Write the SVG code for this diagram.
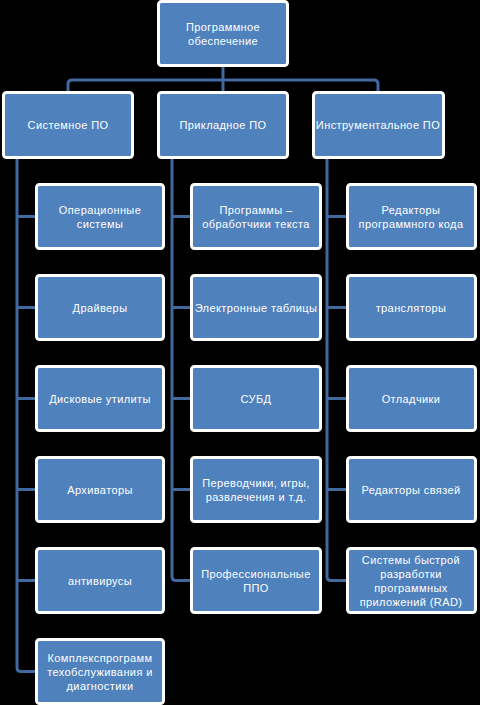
<svg xmlns="http://www.w3.org/2000/svg" width="480" height="705" viewBox="0 0 480 705">
<style>
.bx{fill:#4F81BD;stroke:#FFFFFF;stroke-width:3}
.t{font-family:"Liberation Sans","DejaVu Sans",sans-serif;font-size:11px;fill:#FFFFFF;text-anchor:middle;dominant-baseline:central;letter-spacing:0.4px}
.c{fill:none;stroke:#41699F;stroke-width:3;stroke-linejoin:round}
</style>
<rect width="480" height="705" fill="#000000"/>
<g id="connectors">
<path class="c" d="M223,66 V80"/>
<path class="c" d="M68,91 V84 Q68,80 72,80 H374 Q378,80 378,84 V91"/>
<path class="c" d="M223,80 V91"/>
<path class="c" d="M17,158 V667.5 Q17,671.5 21,671.5 H36"/>
<path class="c" d="M17,216.5 H36 M17,307.5 H36 M17,398.5 H36 M17,489.5 H36 M17,580.5 H36"/>
<path class="c" d="M172,158 V576.5 Q172,580.5 176,580.5 H191"/>
<path class="c" d="M172,216.5 H191 M172,307.5 H191 M172,398.5 H191 M172,489.5 H191"/>
<path class="c" d="M327,158 V576.5 Q327,580.5 331,580.5 H347"/>
<path class="c" d="M327,216.5 H347 M327,307.5 H347 M327,398.5 H347 M327,489.5 H347"/>
</g>
<g id="root"><rect class="bx" x="158.5" y="1.5" width="129" height="64" rx="3"/><text class="t" x="223" y="27">Программное</text><text class="t" x="223" y="41">обеспечение</text></g>
<g id="sys"><rect class="bx" x="3.5" y="92.5" width="129" height="65" rx="3"/><text class="t" x="68" y="125">Системное ПО</text></g>
<g id="app"><rect class="bx" x="158.5" y="92.5" width="129" height="65" rx="3"/><text class="t" x="223" y="125">Прикладное ПО</text></g>
<g id="tool"><rect class="bx" x="313.5" y="92.5" width="130" height="65" rx="3"/><text class="t" x="378" y="125">Инструментальное ПО</text></g>

<g id="s1"><rect class="bx" x="36.5" y="184.5" width="127" height="64" rx="3"/><text class="t" x="100" y="209.5">Операционные</text><text class="t" x="100" y="223.5">системы</text></g>
<g id="s2"><rect class="bx" x="36.5" y="275.5" width="127" height="64" rx="3"/><text class="t" x="100" y="307.5">Драйверы</text></g>
<g id="s3"><rect class="bx" x="36.5" y="366.5" width="127" height="64" rx="3"/><text class="t" x="100" y="398.5">Дисковые утилиты</text></g>
<g id="s4"><rect class="bx" x="36.5" y="457.5" width="127" height="64" rx="3"/><text class="t" x="100" y="489.5">Архиваторы</text></g>
<g id="s5"><rect class="bx" x="36.5" y="548.5" width="127" height="64" rx="3"/><text class="t" x="100" y="580.5">антивирусы</text></g>
<g id="s6"><rect class="bx" x="36.5" y="639.5" width="127" height="64" rx="3"/><text class="t" x="100" y="657.5">Комплекспрограмм</text><text class="t" x="100" y="671.5">техобслуживания и</text><text class="t" x="100" y="685.5">диагностики</text></g>

<g id="a1"><rect class="bx" x="191.5" y="184.5" width="129" height="64" rx="3"/><text class="t" x="256" y="209.5">Программы –</text><text class="t" x="256" y="223.5">обработчики текста</text></g>
<g id="a2"><rect class="bx" x="191.5" y="275.5" width="129" height="64" rx="3"/><text class="t" x="256" y="307.5">Электронные таблицы</text></g>
<g id="a3"><rect class="bx" x="191.5" y="366.5" width="129" height="64" rx="3"/><text class="t" x="256" y="398.5">СУБД</text></g>
<g id="a4"><rect class="bx" x="191.5" y="457.5" width="129" height="64" rx="3"/><text class="t" x="256" y="482.5">Переводчики, игры,</text><text class="t" x="256" y="496.5">развлечения и т.д.</text></g>
<g id="a5"><rect class="bx" x="191.5" y="548.5" width="129" height="64" rx="3"/><text class="t" x="256" y="573.5">Профессиональные</text><text class="t" x="256" y="587.5">ППО</text></g>

<g id="t1"><rect class="bx" x="347.5" y="184.5" width="128" height="64" rx="3"/><text class="t" x="411" y="209.5">Редакторы</text><text class="t" x="411" y="223.5">программного кода</text></g>
<g id="t2"><rect class="bx" x="347.5" y="275.5" width="128" height="64" rx="3"/><text class="t" x="411" y="307.5">трансляторы</text></g>
<g id="t3"><rect class="bx" x="347.5" y="366.5" width="128" height="64" rx="3"/><text class="t" x="411" y="398.5">Отладчики</text></g>
<g id="t4"><rect class="bx" x="347.5" y="457.5" width="128" height="64" rx="3"/><text class="t" x="411" y="489.5">Редакторы связей</text></g>
<g id="t5"><rect class="bx" x="347.5" y="548.5" width="128" height="64" rx="3"/><text class="t" x="411" y="559.5">Системы быстрой</text><text class="t" x="411" y="573.5">разработки</text><text class="t" x="411" y="587.5">программных</text><text class="t" x="411" y="601.5">приложений (RAD)</text></g>
</svg>
